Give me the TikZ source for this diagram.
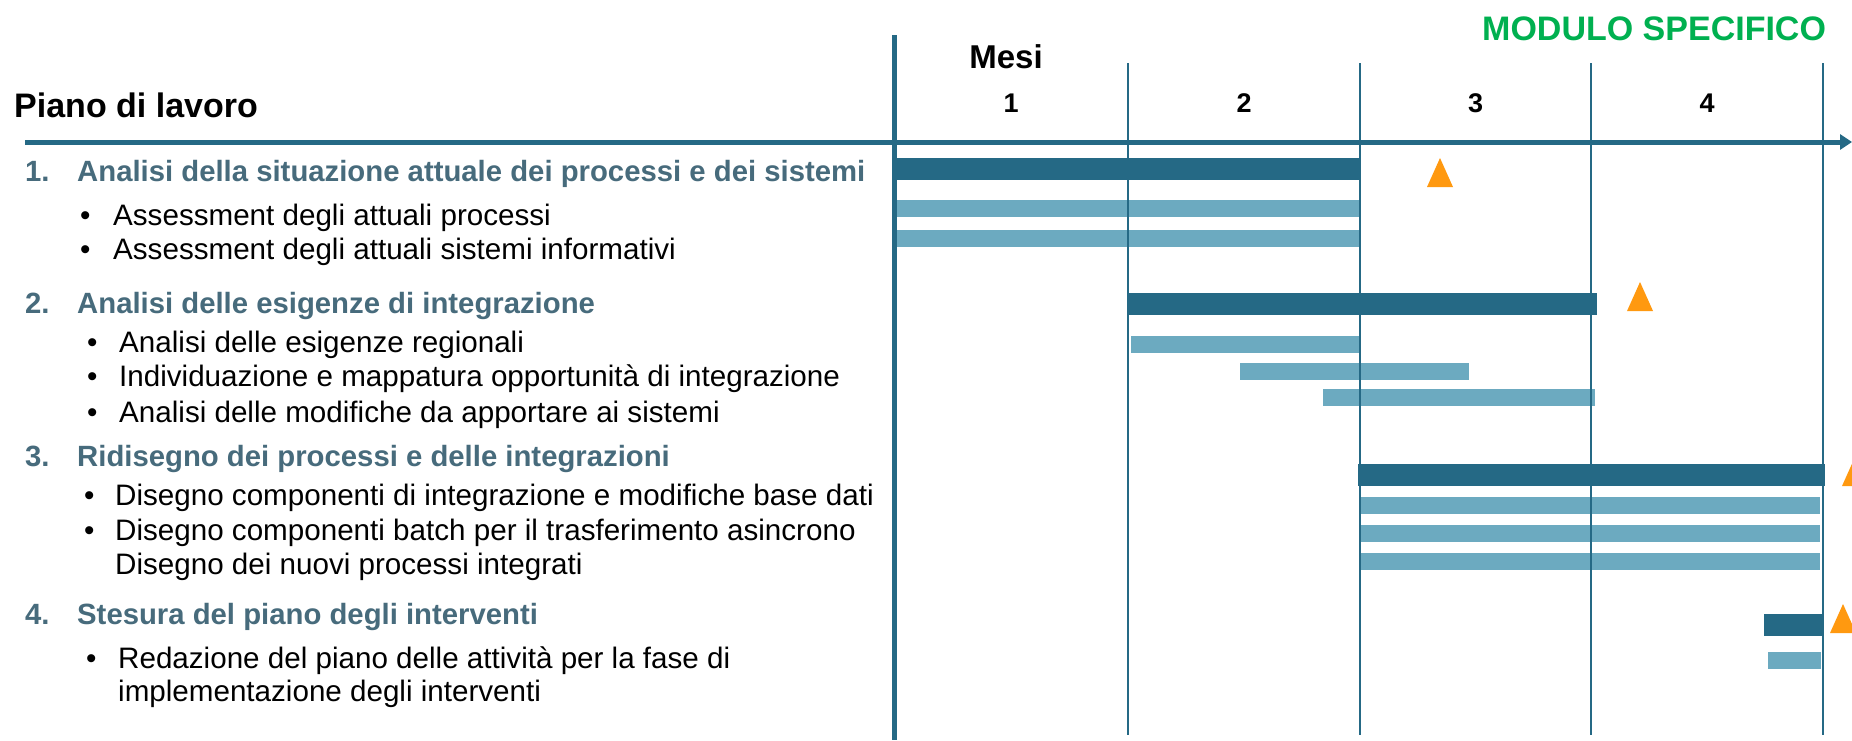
\documentclass[tikz,border=0pt]{standalone}
\usepackage{fontspec}
\setmainfont{Liberation Sans}
\usetikzlibrary{arrows.meta}
\definecolor{dk}{HTML}{256985}
\definecolor{lt}{HTML}{6CAAC0}
\definecolor{og}{HTML}{FF9910}
\definecolor{hd}{HTML}{476B7C}
\definecolor{gr}{HTML}{00B050}
\begin{document}
\begin{tikzpicture}[x=1pt,y=-1pt,
  body/.style={anchor=base west, inner sep=0pt, font=\fontsize{29.6}{34}\selectfont},
  head/.style={anchor=base west, inner sep=0pt, font=\fontsize{29.3}{34}\selectfont\bfseries, text=hd},
  title/.style={anchor=base west, inner sep=0pt, font=\fontsize{34}{40}\selectfont\bfseries},
  month/.style={anchor=base, inner sep=0pt, font=\fontsize{27}{32}\selectfont\bfseries},
  darkbar/.style={fill=dk},
  lightbar/.style={fill=lt},
  mile/.style={fill=og},
  gridline/.style={draw=dk, line width=2.5pt},
  mainline/.style={draw=dk, line width=5pt},
  axisline/.style={draw=dk, line width=5pt, -{Triangle[length=12pt,width=15pt]}}
]
\useasboundingbox[fill=white] (0,0) rectangle (1852,740);

% titles
\node[title] (piano) at (14,117) {Piano di lavoro};
\node[title, text=gr] (modulo) at (1482,40) {MODULO SPECIFICO};
\node[title, anchor=base, font=\fontsize{33}{40}\selectfont\bfseries] (mesi) at (1006,68) {Mesi};
\node[month] (m1) at (1011,112) {1};
\node[month] (m2) at (1244,112) {2};
\node[month] (m3) at (1475.5,112) {3};
\node[month] (m4) at (1707,112) {4};

% left texts
\node[head] (n1) at (25,181) {1.};
\node[head] (h1) at (77,181) {Analisi della situazione attuale dei processi e dei sistemi};
\node[body] (b1a) at (80,225) {•};
\node[body] (t1a) at (113,225) {Assessment degli attuali processi};
\node[body] (b1b) at (80,259) {•};
\node[body] (t1b) at (113,259) {Assessment degli attuali sistemi informativi};

\node[head] (n2) at (25,313) {2.};
\node[head] (h2) at (77,313) {Analisi delle esigenze di integrazione};
\node[body] (b2a) at (87,352) {•};
\node[body] (t2a) at (119,352) {Analisi delle esigenze regionali};
\node[body] (b2b) at (87,386) {•};
\node[body] (t2b) at (119,386) {Individuazione e mappatura opportunità di integrazione};
\node[body] (b2c) at (87,422) {•};
\node[body] (t2c) at (119,422) {Analisi delle modifiche da apportare ai sistemi};

\node[head] (n3) at (25,466) {3.};
\node[head] (h3) at (77,466) {Ridisegno dei processi e delle integrazioni};
\node[body] (b3a) at (84,505) {•};
\node[body] (t3a) at (115,505) {Disegno componenti di integrazione e modifiche base dati};
\node[body] (b3b) at (84,540) {•};
\node[body] (t3b) at (115,540) {Disegno componenti batch per il trasferimento asincrono};
\node[body] (t3c) at (115,574) {Disegno dei nuovi processi integrati};

\node[head] (n4) at (25,624) {4.};
\node[head] (h4) at (77,624) {Stesura del piano degli interventi};
\node[body] (b4a) at (86,668) {•};
\node[body] (t4a) at (118,668) {Redazione del piano delle attività per la fase di};
\node[body] (t4b) at (118,701) {implementazione degli interventi};

% bars
\fill[darkbar] (894,158) rectangle (1359,180);
\fill[lightbar] (897,200) rectangle (1359,217);
\fill[lightbar] (897,230) rectangle (1359,247);

\fill[darkbar] (1127,293) rectangle (1597,315);
\fill[lightbar] (1131,336) rectangle (1359,353);
\fill[lightbar] (1240,363) rectangle (1469,380);
\fill[lightbar] (1323,389) rectangle (1595,406);

\fill[darkbar] (1358,464) rectangle (1825,486);
\fill[lightbar] (1360,497) rectangle (1820,514);
\fill[lightbar] (1360,525) rectangle (1820,542);
\fill[lightbar] (1360,553) rectangle (1820,570);

\fill[darkbar] (1764,614) rectangle (1823,636);
\fill[lightbar] (1768,652) rectangle (1821,669);

% milestones
\foreach \mx/\my in {1440/158, 1640/282, 1855/457, 1843/604}
  \fill[mile] (\mx,\my) -- ++(-13,29) -- ++(26,0) -- cycle;

% grid
\coordinate (g1t) at (1128,63); \coordinate (g1b) at (1128,735);
\coordinate (g2t) at (1360,63); \coordinate (g2b) at (1360,735);
\coordinate (g3t) at (1591,63); \coordinate (g3b) at (1591,735);
\coordinate (g4t) at (1823,63); \coordinate (g4b) at (1823,735);
\draw[gridline] (g1t) -- (g1b);
\draw[gridline] (g2t) -- (g2b);
\draw[gridline] (g3t) -- (g3b);
\draw[gridline] (g4t) -- (g4b);
\coordinate (vt) at (894.5,35); \coordinate (vb) at (894.5,740);
\draw[mainline] (vt) -- (vb);
\coordinate (ax0) at (25,142); \coordinate (ax1) at (1852,142);
\draw[axisline] (ax0) -- (ax1);
\end{tikzpicture}
\end{document}
